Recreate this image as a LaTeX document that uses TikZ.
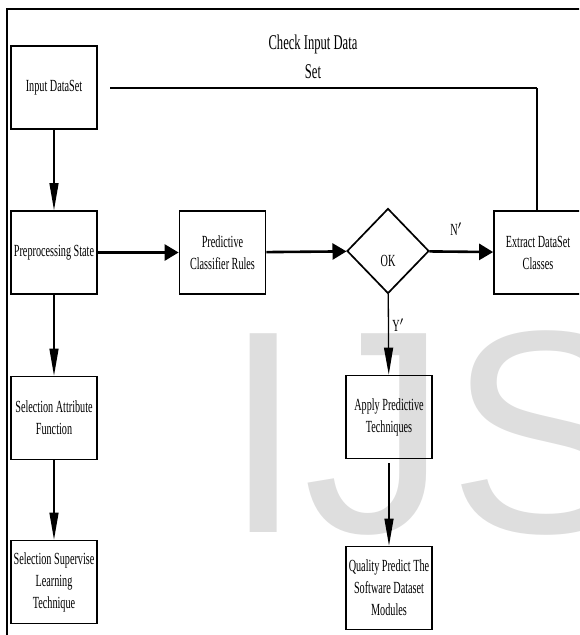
\documentclass[tikz,border=0pt]{standalone}
\usepackage{fontspec}
\newfontfamily\flowfont[FakeStretch=0.6]{Liberation Serif}
\newfontfamily\markfont{Liberation Sans}
\usetikzlibrary{shapes.geometric, arrows.meta}

\begin{document}
\begin{tikzpicture}[x=1pt, y=-1pt,
    stage/.style={draw, line width=1.7pt, minimum width=86pt, minimum height=83pt,
        inner sep=0pt, align=center, font=\flowfont\fontsize{17}{22}\selectfont},
    decide/.style={draw, diamond, line width=1.7pt, minimum width=82pt,
        minimum height=85pt, inner sep=0pt},
    txt/.style={inner sep=0pt, align=center, font=\flowfont\fontsize{17}{22}\selectfont},
    down/.style={line width=1.3pt, -{Triangle[length=27pt,width=9pt]}},
    across/.style={line width=2.6pt, -{Triangle[length=14pt,width=16pt]}}]

    \useasboundingbox (0,0) rectangle (579,635);
    \clip (0,0) rectangle (579,635);

    % Watermark
    \node[anchor=base west, inner sep=0pt, text=black!13,
        font=\markfont\fontsize{289}{289}\selectfont] (mark) at (223,532) {IJS};

    % Frame
    \draw[line width=2pt] (7,9) rectangle (600,660);

    % Left column
    \node[stage] (input) at (54,87.5) {Input DataSet};
    \node[stage] (prep) at (54,252.5) {Preprocessing State};
    \node[stage] (attr) at (54,418) {Selection Attribute\\Function};
    \node[stage] (learn) at (54,582) {Selection Supervise\\Learning\\Technique};

    % Middle row
    \node[stage] (rules) at (222.5,252.5) {Predictive\\Classifier Rules};
    \node[decide] (ok) at (388,251) {};
    \node[txt] (oklbl) at (388,261) {OK};
    \node[stage, minimum width=88pt] (extract) at (538,252.5) {Extract DataSet\\Classes};

    % Right column
    \node[stage] (apply) at (389,417) {Apply Predictive\\Techniques};
    \node[stage] (quality) at (389,588) {Quality Predict The\\Software Dataset\\Modules};

    % Check line
    \node[txt, font=\flowfont\fontsize{21}{29}\selectfont] (chklbl) at (313,57) {Check Input Data\\Set};
    \coordinate (chkstart) at (110,88);
    \coordinate (chkcorner) at (537,88);
    \draw[line width=2.3pt] (chkstart) -- (chkcorner);
    \draw[line width=1.3pt] (chkcorner) -- (chkcorner |- extract.north);

    % Arrows
    \draw[down] (input) -- (prep);
    \draw[down] (prep) -- (attr);
    \draw[down] (attr) -- (learn);
    \draw[across] (prep) -- (rules);
    \draw[across] (rules) -- (ok);
    \draw[across] (ok) -- (extract);
    \draw[down] (ok) -- (apply);
    \draw[down, shorten <=4pt] (apply) -- (quality);

    \node[txt] (nlbl) at (456,229) {N$'$};
    \node[txt] (ylbl) at (398,325) {Y$'$};
\end{tikzpicture}
\end{document}
